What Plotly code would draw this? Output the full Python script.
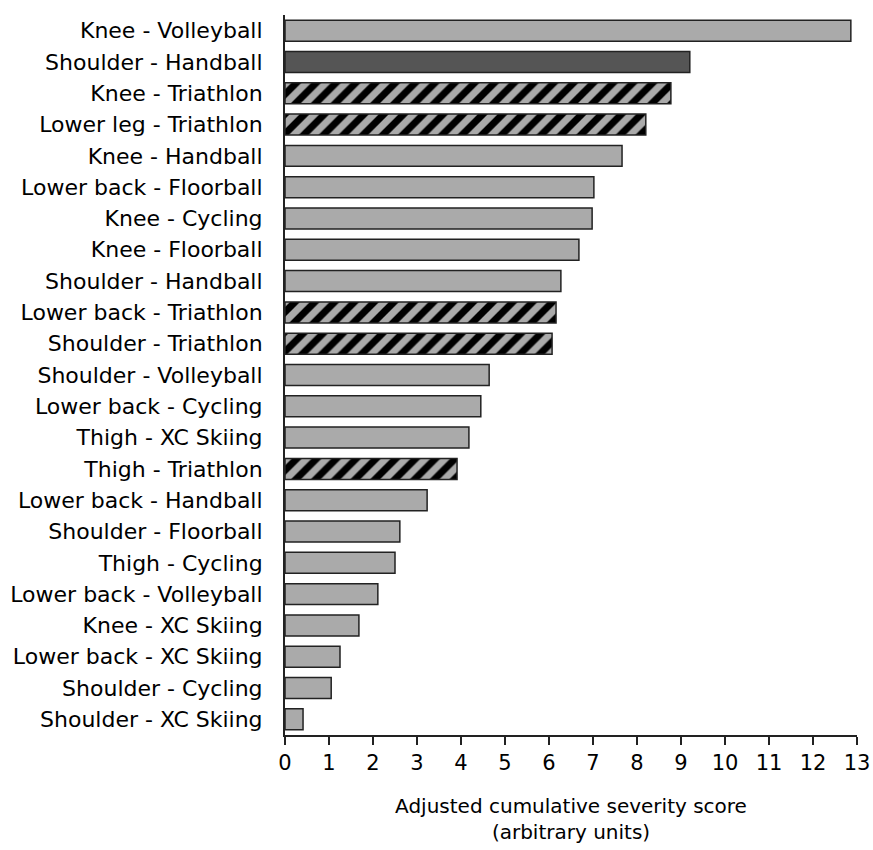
import plotly.graph_objects as go

labels = ["Knee - Volleyball", "Shoulder - Handball", "Knee - Triathlon", "Lower leg - Triathlon",
          "Knee - Handball", "Lower back - Floorball", "Knee - Cycling", "Knee - Floorball",
          "Shoulder - Handball", "Lower back - Triathlon", "Shoulder - Triathlon",
          "Shoulder - Volleyball", "Lower back - Cycling", "Thigh - XC Skiing", "Thigh - Triathlon",
          "Lower back - Handball", "Shoulder - Floorball", "Thigh - Cycling",
          "Lower back - Volleyball", "Knee - XC Skiing", "Lower back - XC Skiing",
          "Shoulder - Cycling", "Shoulder - XC Skiing"]
values = [12.86, 9.2, 8.77, 8.2, 7.66, 7.02, 6.98, 6.68, 6.27, 6.16, 6.07,
          4.64, 4.45, 4.18, 3.91, 3.23, 2.61, 2.5, 2.11, 1.68, 1.25, 1.05, 0.41]
# style group: "plain", "dark", "hatched"
groups = ["plain", "dark", "hatched", "hatched", "plain", "plain", "plain", "plain",
          "plain", "hatched", "hatched", "plain", "plain", "plain", "hatched",
          "plain", "plain", "plain", "plain", "plain", "plain", "plain", "plain"]
xticks = list(range(0, 14))

FONT = "DejaVu Sans"
GRAY = "#aaaaaa"
DARK = "#555555"
EDGE = "#222222"

pos = list(range(len(labels)))

fig = go.Figure()
styles = {
    "plain": dict(color=GRAY),
    "dark": dict(color=DARK),
    "hatched": dict(color=GRAY, pattern=dict(shape="/", fgcolor="#000000", bgcolor=GRAY,
                                             size=14, solidity=0.5, fillmode="replace")),
}
for g, st in styles.items():
    xs = [v for v, gg in zip(values, groups) if gg == g]
    ys = [p for p, gg in zip(pos, groups) if gg == g]
    fig.add_trace(go.Bar(x=xs, y=ys, orientation="h", width=0.67,
                         marker=dict(line=dict(color=EDGE, width=1.5), **st),
                         showlegend=False, hoverinfo="skip"))

fig.update_layout(
    width=873, height=850,
    margin=dict(l=285, r=16, t=15, b=115),
    barmode="overlay",
    paper_bgcolor="white", plot_bgcolor="white",
    font=dict(family=FONT, size=22, color="#000000"),
    xaxis=dict(range=[0, 13], tickvals=xticks, ticks="outside", ticklen=8, tickwidth=1.5,
               tickcolor=EDGE, showline=True, linecolor=EDGE, linewidth=2,
               showgrid=False, zeroline=False, automargin=False,
               tickfont=dict(size=21), ticklabeloverflow="allow",
               title=dict(text="Adjusted cumulative severity score<br>(arbitrary units)",
                          standoff=25, font=dict(family=FONT, size=20))),
    yaxis=dict(tickvals=pos, ticktext=labels, range=[len(labels) - 0.5, -0.5],
               showline=True, linecolor=EDGE, linewidth=2, showgrid=False,
               zeroline=False, ticks="", ticklabelstandoff=16, automargin=False),
)

fig.write_html("out.html", config={"displayModeBar": False},
               post_script="document.body.style.margin='0';document.body.style.overflow='hidden';")
